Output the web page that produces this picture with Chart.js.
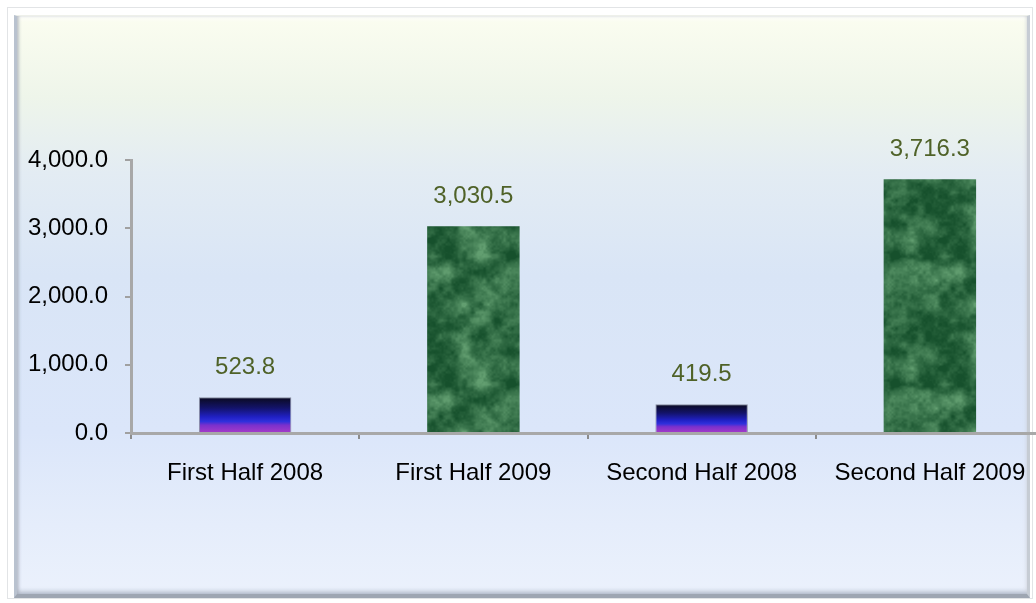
<!DOCTYPE html>
<html>
<head>
<meta charset="utf-8">
<script src="https://cdn.jsdelivr.net/npm/chart.js@4/dist/chart.umd.min.js"></script>
<style>
  html, body { margin: 0; padding: 0; width: 1036px; height: 603px; overflow: hidden; background: #ffffff; }
  #outer { position: absolute; left: 7px; top: 7px; width: 1026px; height: 592px; border: 1px solid #e2e4e6; box-sizing: border-box; }
  #frame {
    position: absolute; left: 14px; top: 15px; width: 1016px; height: 583px; box-sizing: border-box;
    background: linear-gradient(to bottom, #fbfdf0 0%, #eef5ea 14%, #e3ecf3 27%, #d9e5f6 45%, #dbe6fa 72%, #e5edfb 88%, #ebf1fc 100%);
    border-left: 3px solid #b9c2cf; border-bottom: 4px solid #9ea6b2; border-right: 3px solid #c6ccd4; border-top: 1px solid #eef0ea;
    box-shadow: inset 2px 0 3px rgba(120,130,150,0.35), inset 0 -3px 4px rgba(110,120,140,0.35), inset 0 3px 4px rgba(255,255,255,0.8);
  }
  #c { position: absolute; left: 0; top: 0; }
</style>
</head>
<body>
<div id="outer"></div>
<div id="frame"></div>
<canvas id="c" width="1046" height="603"></canvas>
<script>
// ---- data ----
const categories = ["First Half 2008", "First Half 2009", "Second Half 2008", "Second Half 2009"];
const values = [523.8, 3030.5, 419.5, 3716.3];
const yTicks = [0, 1000, 2000, 3000, 4000];

// ---- styling helpers ----
const FONT = '"Liberation Sans", Arial, sans-serif';
function fmt(v) {
  return v.toLocaleString('en-US', { minimumFractionDigits: 1, maximumFractionDigits: 1 });
}

// deterministic (hash-based) cloudy marble texture for the green bars
function hash(ix, iy, p) {
  ix = ((ix % p) + p) % p; iy = ((iy % p) + p) % p;
  let h = (ix * 374761393 + iy * 668265263) | 0;
  h = Math.imul(h ^ (h >>> 13), 1274126177);
  h = h ^ (h >>> 16);
  return (h >>> 0) / 4294967295;
}
function smooth(t) { return t * t * (3 - 2 * t); }
function vnoise(x, y, p) {
  const ix = Math.floor(x), iy = Math.floor(y);
  const fx = smooth(x - ix), fy = smooth(y - iy);
  const a = hash(ix, iy, p), b = hash(ix + 1, iy, p), c = hash(ix, iy + 1, p), d = hash(ix + 1, iy + 1, p);
  return (a * (1 - fx) + b * fx) * (1 - fy) + (c * (1 - fx) + d * fx) * fy;
}
function makeMarble() {
  const S = 128;
  const off = document.createElement('canvas');
  off.width = S; off.height = S;
  const g = off.getContext('2d');
  const img = g.createImageData(S, S);
  for (let y = 0; y < S; y++) {
    for (let x = 0; x < S; x++) {
      let n = 0, amp = 0.5, tot = 0;
      for (let o = 0; o < 4; o++) {
        const cells = 8 << o;
        n += amp * vnoise(x / S * cells, y / S * cells, cells);
        tot += amp; amp *= 0.6;
      }
      n /= tot;
      let t = (n - 0.2) / 0.62;
      t = Math.max(0, Math.min(1, t));
      t = Math.pow(t, 1.2);
      const r = 22 + t * (98 - 22);
      const gg = 80 + t * (158 - 80);
      const b = 44 + t * (112 - 44);
      const i = (y * S + x) * 4;
      img.data[i] = r; img.data[i + 1] = gg; img.data[i + 2] = b; img.data[i + 3] = 255;
    }
  }
  g.putImageData(img, 0, 0);
  return off;
}
const marbleCanvas = makeMarble();
let marblePattern = null;

function barFill(context) {
  const chart = context.chart;
  const c = chart.ctx;
  const idx = context.dataIndex;
  if (idx % 2 === 1) {
    if (!marblePattern) marblePattern = c.createPattern(marbleCanvas, 'repeat');
    return marblePattern;
  }
  if (!chart.chartArea) return '#2020c0';
  const ys = chart.scales.y;
  const top = ys.getPixelForValue(values[idx]);
  const bot = ys.getPixelForValue(0);
  const gr = c.createLinearGradient(0, top, 0, bot);
  gr.addColorStop(0, '#0a0a1e');
  gr.addColorStop(0.3, '#13136a');
  gr.addColorStop(0.55, '#2020c4');
  gr.addColorStop(0.68, '#3030dc');
  gr.addColorStop(0.78, '#7a30cc');
  gr.addColorStop(1, '#a83cc8');
  return gr;
}

const valueLabels = {
  id: 'valueLabels',
  afterDatasetsDraw(chart) {
    const c = chart.ctx;
    const meta = chart.getDatasetMeta(0);
    c.save();
    c.font = '24px ' + FONT;
    c.fillStyle = '#4f6228';
    c.textAlign = 'center';
    c.textBaseline = 'middle';
    meta.data.forEach((el, i) => {
      c.fillText(fmt(values[i]), el.x, el.y - 30);
    });
    c.restore();
  }
};

new Chart(document.getElementById('c'), {
  type: 'bar',
  data: {
    labels: categories,
    datasets: [{
      data: values,
      backgroundColor: barFill,
      borderColor: (ctx) => ctx.dataIndex % 2 === 0 ? 'rgba(70,70,90,0.55)' : 'rgba(0,0,0,0)',
      borderWidth: (ctx) => ctx.dataIndex % 2 === 0 ? 1 : 0,
      borderSkipped: 'bottom',
      categoryPercentage: 1.0,
      barPercentage: 0.405
    }]
  },
  options: {
    responsive: false,
    animation: false,
    devicePixelRatio: 1,
    layout: { padding: { top: 160, left: 0, right: 2, bottom: 0 } },
    plugins: { legend: { display: false }, tooltip: { enabled: false } },
    scales: {
      x: {
        offset: true,
        grid: { offset: true, drawOnChartArea: false, drawTicks: true, tickLength: 6, color: '#8c8c8c', lineWidth: 2 },
        border: { display: true, color: '#a8a8a8', width: 3 },
        ticks: { color: '#000000', font: { family: FONT, size: 24 }, padding: 20, maxRotation: 0, autoSkip: false },
        afterFit(scale) { scale.height = 170; }
      },
      y: {
        min: 0, max: 4000,
        afterBuildTicks(scale) { scale.ticks = yTicks.map(v => ({ value: v })); },
        grid: { drawOnChartArea: false, drawTicks: true, tickLength: 6, color: '#a0a0a0', lineWidth: 2 },
        border: { display: true, color: '#a8a8a8', width: 3 },
        ticks: { color: '#000000', font: { family: FONT, size: 24 }, padding: 17, callback: (v) => fmt(v) },
        afterFit(scale) { scale.width = 131; }
      }
    }
  },
  plugins: [valueLabels]
});
</script>
</body>
</html>
